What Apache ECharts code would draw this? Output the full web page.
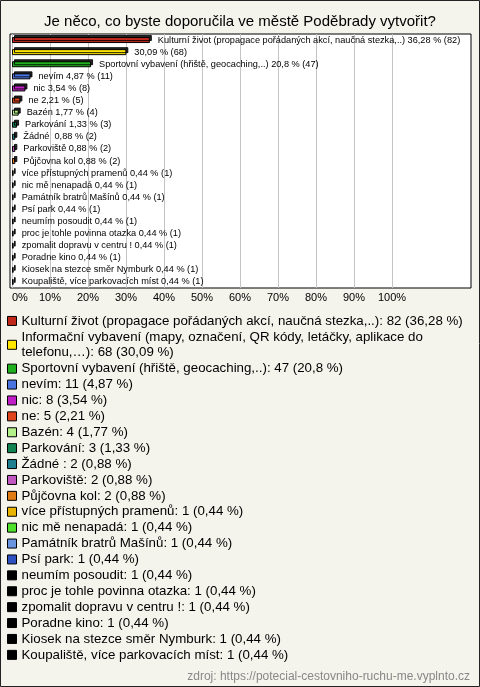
<!DOCTYPE html>
<html>
<head>
<meta charset="utf-8">
<script src="https://cdn.jsdelivr.net/npm/echarts@6/dist/echarts.min.js"></script>
<style>
html,body{margin:0;padding:0;background:#f4f4ec;}
#chart{width:480px;height:687px;}
</style>
</head>
<body>
<div id="chart"></div>
<script>
const categories = [
  "Kulturní život (propagace pořádaných akcí, naučná stezka,..)",
  "Informační vybavení (mapy, označení, QR kódy, letáčky, aplikace do telefonu,…)",
  "Sportovní vybavení (hřiště, geocaching,..)",
  "nevím",
  "nic",
  "ne",
  "Bazén",
  "Parkování",
  "Žádné ",
  "Parkoviště",
  "Půjčovna kol",
  "více přístupných pramenů",
  "nic mě nenapadá",
  "Památník bratrů Mašínů",
  "Psí park",
  "neumím posoudit",
  "proc je tohle povinna otazka",
  "zpomalit dopravu v centru !",
  "Poradne kino",
  "Kiosek na stezce směr Nymburk",
  "Koupaliště, více parkovacích míst"
];
const counts = [82, 68, 47, 11, 8, 5, 4, 3, 2, 2, 2, 1, 1, 1, 1, 1, 1, 1, 1, 1, 1];
const percents = [36.28, 30.09, 20.8, 4.87, 3.54, 2.21, 1.77, 1.33, 0.88, 0.88, 0.88, 0.44, 0.44, 0.44, 0.44, 0.44, 0.44, 0.44, 0.44, 0.44, 0.44];
const showNameOnBar = [true, false, true, true, true, true, true, true, true, true, true, true, true, true, true, true, true, true, true, true, true];
const colors = [
  "#c0281c", "#ffe600", "#1fb01f", "#4a74e0", "#c21ec8", "#e0441c", "#b4f08a",
  "#128454", "#1f7f8f", "#c058c0", "#e07a12", "#e8b400", "#4fe02c", "#6a94e0",
  "#2e50c0", "#000000", "#000000", "#000000", "#000000", "#000000", "#000000"
];
const xTicks = [0, 10, 20, 30, 40, 50, 60, 70, 80, 90, 100];
const titleText = "Je něco, co byste doporučila ve městě Poděbrady vytvořit?";
const sourceText = "zdroj: https://potecial-cestovniho-ruchu-me.vyplnto.cz";

const fmt = v => String(v).replace('.', ',');

const chart = echarts.init(document.getElementById('chart'), null, {renderer: 'canvas'});

const series = categories.map((name, i) => ({
  type: 'bar',
  name: name,
  xAxisIndex: 1,
  yAxisIndex: 1,
  stack: 'all',
  barWidth: 6,
  animation: false,
  data: categories.map((_, j) => j === i ? percents[i] : '-'),
  itemStyle: {
    color: colors[i],
    borderColor: '#000',
    borderWidth: 1,
    shadowColor: 'rgba(0,0,0,0.85)',
    shadowOffsetX: 2,
    shadowOffsetY: -2,
    shadowBlur: 0
  },
  label: {
    show: true,
    position: 'right',
    distance: 8,
    fontSize: 9.2,
    fontFamily: 'Liberation Sans, Arial, sans-serif',
    color: '#000',
    formatter: () => (showNameOnBar[i] ? name + ' ' : '') + fmt(percents[i]) + ' % (' + counts[i] + ')'
  }
}));

const option = {
  backgroundColor: '#f4f4ec',
  animation: false,
  textStyle: {fontFamily: 'Liberation Sans, Arial, sans-serif'},
  title: {
    text: titleText,
    left: 'center',
    top: 9,
    textStyle: {fontSize: 15, fontWeight: 'normal', color: '#000', fontFamily: 'Liberation Sans, Arial, sans-serif'}
  },
  graphic: [
    {type: 'rect', shape: {x: 0.5, y: 0.5, width: 479, height: 686}, style: {fill: 'none', stroke: '#222', lineWidth: 1}, silent: true},
    {type: 'text', right: 10, top: 671, style: {text: sourceText, fill: '#888', fontSize: 12, fontFamily: 'Liberation Sans, Arial, sans-serif'}, silent: true}
  ],
  grid: [
    {left: 10, top: 34, width: 461, height: 254, show: true, backgroundColor: '#fff', borderColor: '#000', borderWidth: 1},
    {left: 12, top: 34, width: 380, height: 254}
  ],
  xAxis: [
    {gridIndex: 0, type: 'value', show: false},
    {
      gridIndex: 1, type: 'value', min: 0, max: 100, interval: 10,
      axisLine: {show: false}, axisTick: {show: false},
      splitLine: {show: true, lineStyle: {color: '#c4c4c4', width: 1}},
      axisLabel: {
        color: '#000', fontSize: 11, margin: 4, alignMinLabel: 'left',
        formatter: v => xTicks.indexOf(v) >= 0 ? v + '%' : ''
      }
    }
  ],
  yAxis: [
    {gridIndex: 0, type: 'category', show: false, data: categories},
    {
      gridIndex: 1, type: 'category', data: categories, inverse: true,
      axisLine: {show: false}, axisTick: {show: false}, axisLabel: {show: false},
      splitLine: {show: false}
    }
  ],
  legend: {
    data: categories,
    orient: 'vertical',
    left: 7,
    top: 313,
    padding: 0,
    itemGap: 0,
    itemWidth: 9,
    itemHeight: 9,
    icon: 'rect',
    selectedMode: false,
    itemStyle: {borderColor: '#000', borderWidth: 1, shadowColor: 'transparent', shadowOffsetX: 0, shadowOffsetY: 0},
    textStyle: {
      fontSize: 13.3, color: '#000', lineHeight: 15.9, width: 510, overflow: 'break',
      fontFamily: 'Liberation Sans, Arial, sans-serif'
    },
    formatter: name => {
      const i = categories.indexOf(name);
      return name + ': ' + counts[i] + ' (' + fmt(percents[i]) + ' %)';
    }
  },
  series: series
};
chart.setOption(option);
</script>
</body>
</html>
